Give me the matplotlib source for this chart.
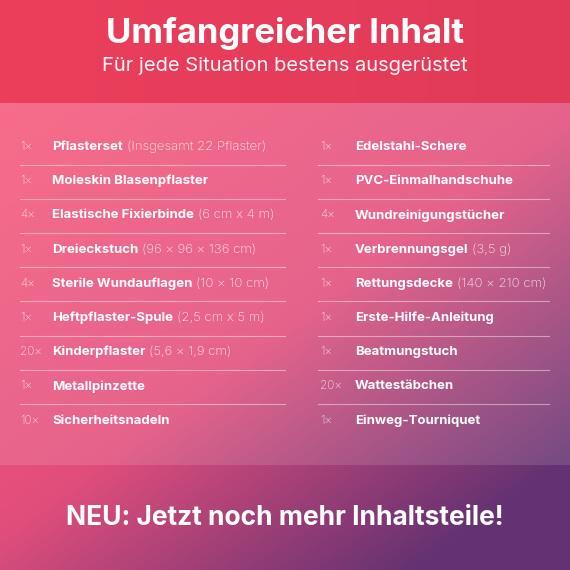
import numpy as np
import matplotlib
matplotlib.use("Agg")
import matplotlib.pyplot as plt
from matplotlib.colors import to_rgb

title = "Umfangreicher Inhalt"
subtitle = "Für jede Situation bestens ausgerüstet"
footer = "NEU: Jetzt noch mehr Inhaltsteile!"

left_qty = ["1×", "1×", "4×", "1×", "4×", "1×", "20×", "1×", "10×"]
left_name = ["Pflasterset", "Moleskin Blasenpflaster", "Elastische Fixierbinde", "Dreieckstuch",
             "Sterile Wundauflagen", "Heftpflaster-Spule", "Kinderpflaster", "Metallpinzette",
             "Sicherheitsnadeln"]
left_detail = ["(Insgesamt 22 Pflaster)", "", "(6 cm x 4 m)", "(96 × 96 × 136 cm)", "(10 × 10 cm)",
               "(2,5 cm x 5 m)", "(5,6 × 1,9 cm)", "", ""]
right_qty = ["1×", "1×", "4×", "1×", "1×", "1×", "1×", "20×", "1×"]
right_name = ["Edelstahl-Schere", "PVC-Einmalhandschuhe", "Wundreinigungstücher", "Verbrennungsgel",
              "Rettungsdecke", "Erste-Hilfe-Anleitung", "Beatmungstuch", "Wattestäbchen",
              "Einweg-Tourniquet"]
right_detail = ["", "", "", "(3,5 g)", "(140 × 210 cm)", "", "", "", ""]

W = H = 570
fig = plt.figure(figsize=(5.7, 5.7), dpi=100)
ax = fig.add_axes([0, 0, 1, 1])
ax.set_xlim(0, W)
ax.set_ylim(H, 0)
ax.axis("off")

# background gradient
yy, xx = np.mgrid[0:H, 0:W] / float(W)
t = np.clip(0.55 * xx + 0.75 * yy - 0.15, 0, 1)[..., None]
c0 = np.array(to_rgb("#f6587a"))
c1 = np.array(to_rgb("#e24e7c"))
c2 = np.array(to_rgb("#643272"))
img = np.where(t < 0.55, c0 + (c1 - c0) * (t / 0.55), c1 + (c2 - c1) * ((t - 0.55) / 0.45))
# top band darker red
top = yy * W < 103
tb = np.array(to_rgb("#ec3f5c")) * (1 - xx[..., None] * 0.3) + np.array(to_rgb("#c42f4c")) * xx[..., None] * 0.3
img[top] = tb[top]
# panel lighter
panel = (yy * W >= 103) & (yy * W < 465)
img[panel] = img[panel] * 0.88 + 0.12
ax.imshow(np.clip(img, 0, 1), extent=[0, W, H, 0], zorder=0, aspect="auto")

ax.text(W / 2, 34, title, color="white", fontsize=25, fontweight="bold", family="Inter",
        ha="center", va="center")
ax.text(W / 2, 66, subtitle, color="white", fontsize=14.5, family="Inter", ha="center",
        va="center", alpha=0.95)
ax.text(W / 2, 518, footer, color="white", fontsize=19, fontweight="bold", family="Inter",
        ha="center", va="center")

fig.canvas.draw()
renderer = fig.canvas.get_renderer()


def draw_column(qty, names, details, xq, xn, x0, x1):
    for i, (q, n, d) in enumerate(zip(qty, names, details)):
        y = 147 + i * 34.2
        ax.text(xq, y, q, color="white", alpha=0.75, fontsize=8.5, family="Inter",
                fontweight="light", va="center")
        tn = ax.text(xn, y, n, color="white", fontsize=9.5, fontweight="bold", family="Inter",
                     va="center")
        if d:
            bb = tn.get_window_extent(renderer)
            xd = ax.transData.inverted().transform((bb.x1, 0))[0] + 4
            ax.text(xd, y, d, color="white", alpha=0.85, fontsize=9.5, fontweight="light",
                    family="Inter", va="center")
        if i < len(qty) - 1:
            ax.plot([x0, x1], [y + 17.5, y + 17.5], color="white", alpha=0.45, lw=0.8)


draw_column(left_qty, left_name, left_detail, 20, 52, 20, 285)
draw_column(right_qty, right_name, right_detail, 320, 355, 318, 549)

fig.savefig("out.png", dpi=100)
